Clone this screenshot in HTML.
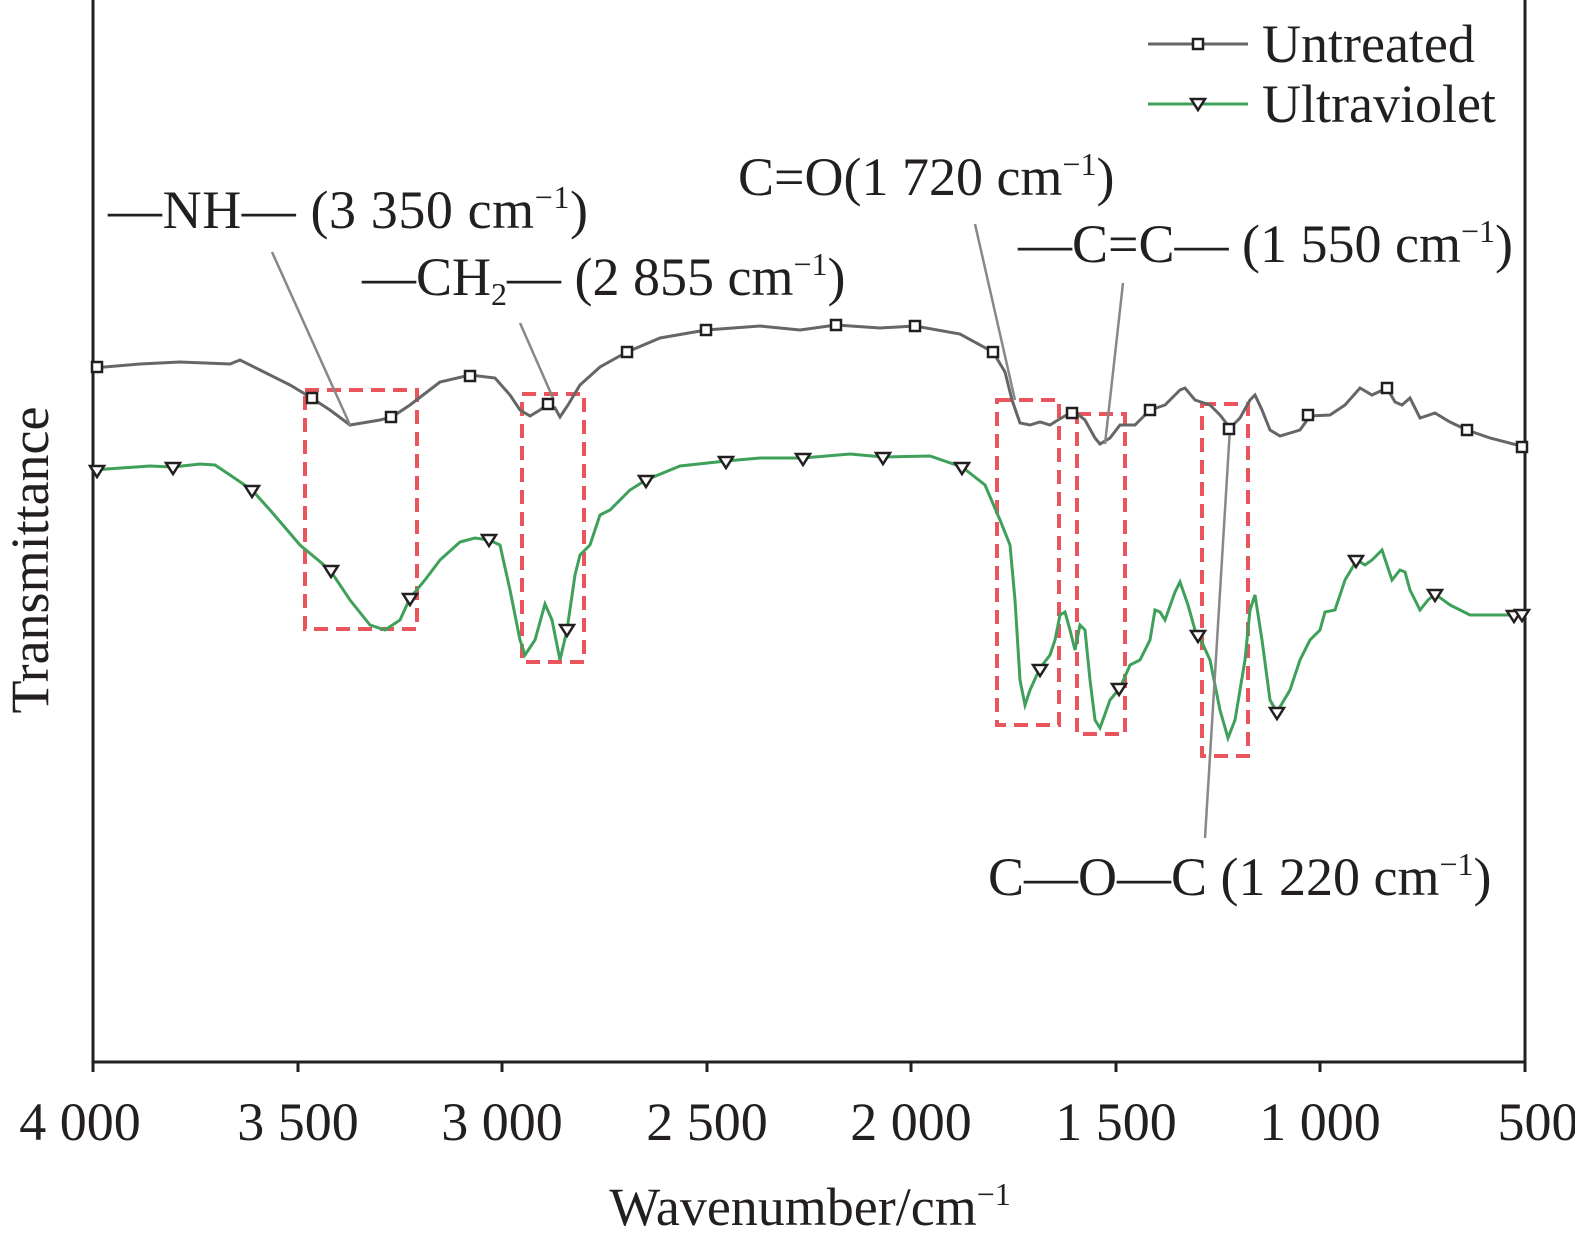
<!DOCTYPE html>
<html><head><meta charset="utf-8"><style>
html,body{margin:0;padding:0;background:#fff}
svg{display:block}
text{font-family:"Liberation Serif",serif;fill:#231f20}
</style></head><body>
<svg width="1575" height="1247" viewBox="0 0 1575 1247" xmlns="http://www.w3.org/2000/svg">
<defs>
<rect id="sq" x="-5" y="-5" width="10" height="10" fill="#fff" stroke="#231f20" stroke-width="2.5"/>
<path id="tri" d="M-7,-5 L7,-5 L0,6 Z" fill="#fff" stroke="#231f20" stroke-width="2.5"/>
</defs>
<path d="M93,0 L93,1062 L1525,1062 L1525,0" fill="none" stroke="#231f20" stroke-width="3"/>
<g stroke="#231f20" stroke-width="3">
<line x1="93" y1="1062" x2="93" y2="1072"/><line x1="298" y1="1062" x2="298" y2="1072"/>
<line x1="502" y1="1062" x2="502" y2="1072"/><line x1="707" y1="1062" x2="707" y2="1072"/>
<line x1="911" y1="1062" x2="911" y2="1072"/><line x1="1116" y1="1062" x2="1116" y2="1072"/>
<line x1="1320" y1="1062" x2="1320" y2="1072"/><line x1="1525" y1="1062" x2="1525" y2="1072"/>
</g>
<g font-size="54" text-anchor="middle">
<text x="80" y="1140">4 000</text><text x="298" y="1140">3 500</text>
<text x="502" y="1140">3 000</text><text x="707" y="1140">2 500</text>
<text x="911" y="1140">2 000</text><text x="1116" y="1140">1 500</text>
<text x="1320" y="1140">1 000</text><text x="1538" y="1140">500</text>
<text x="810" y="1225">Wavenumber/cm<tspan font-size="32" dy="-20">−1</tspan></text>
<text transform="translate(48,560) rotate(-90)">Transmittance</text>
</g>
<g fill="none" stroke="#e8424b" stroke-width="4" stroke-dasharray="14,8" opacity="0.9">
<rect x="305" y="390" width="112" height="239"/>
<rect x="522" y="394" width="62" height="268"/>
<rect x="997" y="400" width="62" height="325"/>
<rect x="1077" y="414" width="48" height="320"/>
<rect x="1202" y="404" width="46" height="352"/>
</g>
<polyline fill="none" stroke="#666" stroke-width="3" points="93,368 140,364 180,362 230,364 240,360 260,370 290,385 310,397 330,410 350,425 380,420 392,417 410,405 440,382 470,375 495,378 510,395 520,410 530,416 540,410 548,404 555,408 560,417 568,405 580,385 600,367 627,352 660,338 706,330 760,326 800,330 836,325 880,328 915,326 960,334 993,352 1005,372 1012,400 1020,423 1030,425 1040,422 1050,425 1058,420 1070,413 1075,412 1085,420 1095,438 1100,444 1110,438 1120,425 1135,425 1150,410 1165,405 1180,390 1185,388 1195,400 1210,405 1220,415 1230,428 1240,418 1250,400 1255,395 1262,410 1270,430 1280,436 1300,430 1310,416 1330,415 1345,405 1360,388 1372,395 1387,388 1395,402 1402,405 1410,398 1420,418 1435,413 1450,422 1467,430 1490,438 1525,447"/>
<polyline fill="none" stroke="#3fa05a" stroke-width="3" points="93,470 150,466 173,467 200,464 215,465 230,475 252,490 270,510 300,545 330,570 350,600 370,625 385,630 400,620 410,598 425,580 440,560 460,542 475,538 489,540 500,545 510,590 520,640 525,655 535,640 545,604 552,620 560,660 567,630 575,575 580,555 590,545 600,515 610,510 630,490 646,480 680,466 726,461 760,458 803,458 850,454 883,457 930,456 962,467 985,485 1000,520 1010,545 1015,600 1020,680 1025,705 1030,690 1040,668 1050,655 1055,640 1060,615 1065,612 1070,630 1075,650 1080,625 1085,630 1090,680 1095,720 1100,728 1110,700 1120,688 1130,665 1140,660 1150,640 1155,610 1160,612 1165,620 1175,592 1180,582 1188,605 1195,630 1200,638 1210,660 1220,710 1228,738 1235,720 1245,660 1250,610 1255,595 1262,640 1270,700 1277,712 1290,690 1300,660 1310,640 1320,630 1325,612 1335,610 1345,580 1357,560 1365,565 1372,560 1382,550 1392,580 1400,570 1405,572 1410,590 1420,610 1428,600 1435,594 1450,605 1470,615 1490,615 1525,615"/>
<g stroke="#888" stroke-width="2.5">
<line x1="272" y1="252" x2="350" y2="425"/>
<line x1="520" y1="323" x2="553" y2="398"/>
<line x1="975" y1="224" x2="1015" y2="400"/>
<line x1="1123" y1="283" x2="1105" y2="444"/>
<line x1="1205" y1="838" x2="1230" y2="428"/>
</g>
<use href="#sq" x="97" y="367"/><use href="#sq" x="312" y="398"/><use href="#sq" x="391" y="417"/>
<use href="#sq" x="470" y="376"/><use href="#sq" x="548" y="404"/><use href="#sq" x="627" y="352"/>
<use href="#sq" x="706" y="330"/><use href="#sq" x="836" y="325"/><use href="#sq" x="915" y="326"/>
<use href="#sq" x="993" y="352"/><use href="#sq" x="1072" y="413"/><use href="#sq" x="1150" y="410"/>
<use href="#sq" x="1229" y="429"/><use href="#sq" x="1308" y="415"/><use href="#sq" x="1387" y="388"/>
<use href="#sq" x="1467" y="430"/><use href="#sq" x="1522" y="447"/>
<use href="#tri" x="97" y="471"/><use href="#tri" x="173" y="468"/><use href="#tri" x="252" y="491"/>
<use href="#tri" x="331" y="571"/><use href="#tri" x="410" y="599"/><use href="#tri" x="489" y="540"/>
<use href="#tri" x="567" y="630"/><use href="#tri" x="646" y="481"/><use href="#tri" x="726" y="462"/>
<use href="#tri" x="803" y="459"/><use href="#tri" x="883" y="458"/><use href="#tri" x="962" y="468"/>
<use href="#tri" x="1040" y="670"/><use href="#tri" x="1119" y="689"/><use href="#tri" x="1198" y="636"/>
<use href="#tri" x="1277" y="713"/><use href="#tri" x="1356" y="561"/><use href="#tri" x="1435" y="595"/>
<use href="#tri" x="1514" y="616"/><use href="#tri" x="1522" y="615"/>
<line x1="1148" y1="44" x2="1248" y2="44" stroke="#666" stroke-width="3"/>
<use href="#sq" x="1198" y="44"/>
<line x1="1148" y1="104" x2="1248" y2="104" stroke="#3fa05a" stroke-width="3"/>
<use href="#tri" x="1198" y="104"/>
<g font-size="54">
<text x="1262" y="62">Untreated</text>
<text x="1262" y="122">Ultraviolet</text>
<text x="108" y="228" textLength="480">—NH— (3 350 cm<tspan font-size="32" dy="-20">−1</tspan><tspan dy="20">)</tspan></text>
<text x="362" y="295">—CH<tspan font-size="32" dy="10">2</tspan><tspan dy="-10">— (2 855 cm</tspan><tspan font-size="32" dy="-20">−1</tspan><tspan dy="20">)</tspan></text>
<text x="738" y="195">C=O(1 720 cm<tspan font-size="32" dy="-20">−1</tspan><tspan dy="20">)</tspan></text>
<text x="1018" y="262">—C=C— (1 550 cm<tspan font-size="32" dy="-20">−1</tspan><tspan dy="20">)</tspan></text>
<text x="988" y="895">C—O—C (1 220 cm<tspan font-size="32" dy="-20">−1</tspan><tspan dy="20">)</tspan></text>
</g>
</svg>
</body></html>
